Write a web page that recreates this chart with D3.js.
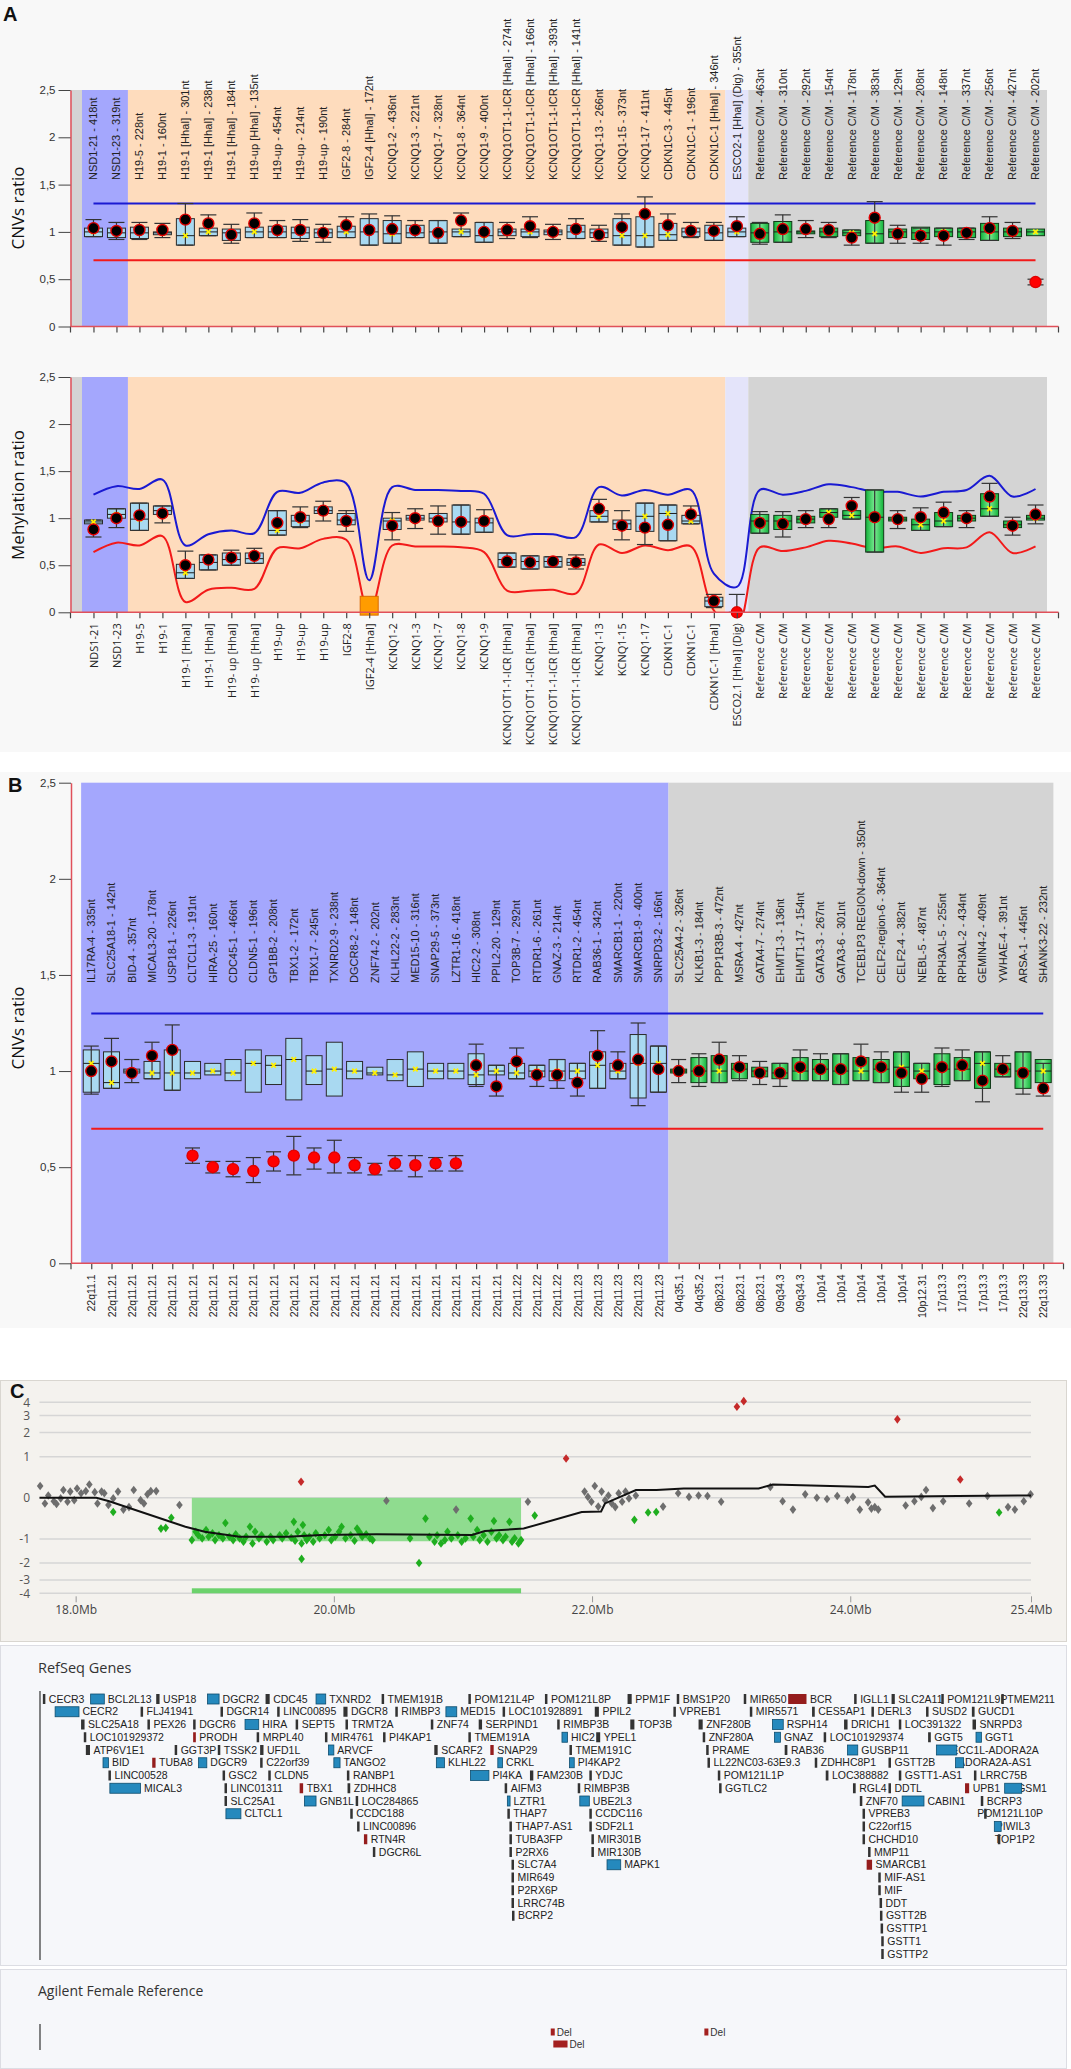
<!DOCTYPE html>
<html>
<head>
<meta charset="utf-8">
<script src="https://cdnjs.cloudflare.com/ajax/libs/d3/7.8.5/d3.min.js"></script>
<style>
  body { margin: 0; background: #fff; }
</style>
</head>
<body>
<script>
// ---------- panel A : probes ----------
const probesA = ["NSD1-21 - 418nt","NSD1-23 - 319nt","H19-5 - 228nt","H19-1 - 160nt","H19-1 [HhaI] - 301nt","H19-1 [HhaI] - 238nt","H19-1 [HhaI] - 184nt","H19-up [HhaI] - 135nt","H19-up - 454nt","H19-up - 214nt","H19-up - 190nt","IGF2-8 - 284nt","IGF2-4 [HhaI] - 172nt","KCNQ1-2 - 436nt","KCNQ1-3 - 221nt","KCNQ1-7 - 328nt","KCNQ1-8 - 364nt","KCNQ1-9 - 400nt","KCNQ1OT1-1-ICR [HhaI] - 274nt","KCNQ1OT1-1-ICR [HhaI] - 166nt","KCNQ1OT1-1-ICR [HhaI] - 393nt","KCNQ1OT1-1-ICR [HhaI] - 141nt","KCNQ1-13 - 266nt","KCNQ1-15 - 373nt","KCNQ1-17 - 411nt","CDKN1C-3 - 445nt","CDKN1C-1 - 196nt","CDKN1C-1 [HhaI] - 346nt","ESCO2-1 [HhaI] (Dig) - 355nt","Reference C/M - 463nt","Reference C/M - 310nt","Reference C/M - 292nt","Reference C/M - 154nt","Reference C/M - 178nt","Reference C/M - 383nt","Reference C/M - 129nt","Reference C/M - 208nt","Reference C/M - 148nt","Reference C/M - 337nt","Reference C/M - 256nt","Reference C/M - 427nt","Reference C/M - 202nt"];
const methLabels = ["NDS1-21","NSD1-23","H19-5","H19-1","H19-1 [HhaI]","H19-1 [HhaI]","H19- up [HhaI]","H19- up [HhaI]","H19-up","H19-up","H19-up","IGF2-8","IGF2-4 [HhaI]","KCNQ1-2","KCNQ1-3","KCNQ1-7","KCNQ1-8","KCNQ1-9","KCNQ1OT1-1-ICR [HhaI]","KCNQ1OT1-1-ICR [HhaI]","KCNQ1OT1-1-ICR [HhaI]","KCNQ1OT1-1-ICR [HhaI]","KCNQ1-13","KCNQ1-15","KCNQ1-17","CDKN1C-1","CDKN1C-1","CDKN1C-1 [HhaI]","ESCO2.1 [HhaI] (Dig)","Reference C/M","Reference C/M","Reference C/M","Reference C/M","Reference C/M","Reference C/M","Reference C/M","Reference C/M","Reference C/M","Reference C/M","Reference C/M","Reference C/M","Reference C/M"];
const groupsA = [[0, 1, "nsd"], [2, 27, "imp"], [28, 28, "esco"], [29, 41, "ref"]];

// CNV ratio (panel A, top)
const cnvMeanA = [1.04,1.01,1.02,1.02,1.13,1.09,0.97,1.09,1.02,1.02,0.99,1.07,1.02,1.03,1.02,0.99,1.12,1.00,1.02,1.06,1.00,1.03,0.97,1.05,1.19,1.07,1.01,1.01,1.06,0.98,1.03,1.03,1.02,0.94,1.15,0.98,0.96,0.96,0.99,1.04,1.01,0.47];
const cnvQ1A = [0.95,0.94,0.93,0.97,0.86,0.96,0.91,0.94,0.94,0.93,0.94,0.94,0.86,0.88,0.94,0.88,0.95,0.89,0.96,0.95,0.97,0.93,0.94,0.86,0.84,0.91,0.95,0.91,0.95,0.89,0.89,0.98,0.95,0.96,0.88,0.94,0.92,0.95,0.94,0.91,0.95,0.96];
const cnvMedA = [1.00,0.99,0.99,0.99,0.96,1.00,0.99,1.00,1.00,0.99,0.99,1.00,1.00,0.98,0.99,1.00,1.00,0.96,1.00,1.00,1.00,1.00,0.99,0.96,0.96,0.97,1.00,0.99,1.00,0.99,1.00,1.00,1.00,0.99,0.98,1.00,0.99,1.00,1.00,1.00,1.00,1.00];
const cnvQ3A = [1.04,1.04,1.05,1.00,1.14,1.04,1.03,1.05,1.06,1.05,1.03,1.06,1.14,1.12,1.07,1.12,1.03,1.10,1.03,1.03,1.02,1.07,1.03,1.14,1.16,1.09,1.04,1.07,1.04,1.09,1.11,1.01,1.04,1.02,1.12,1.03,1.05,1.04,1.04,1.09,1.04,1.03];
const cnvLoA = [0.95,0.92,0.92,0.94,0.86,0.96,0.88,0.94,0.94,0.90,0.89,0.94,0.86,0.88,0.94,0.88,0.95,0.89,0.93,0.94,0.92,0.93,0.90,0.86,0.84,0.91,0.94,0.91,0.95,0.87,0.89,0.94,0.94,0.86,0.88,0.88,0.88,0.86,0.92,0.91,0.93,0.44];
const cnvHiA = [1.13,1.10,1.10,1.09,1.30,1.18,1.08,1.20,1.12,1.13,1.08,1.16,1.19,1.17,1.12,1.12,1.20,1.10,1.10,1.16,1.08,1.14,1.07,1.19,1.37,1.19,1.10,1.10,1.16,1.10,1.18,1.12,1.10,1.02,1.32,1.07,1.04,1.04,1.04,1.16,1.10,0.50];

// methylation ratio (panel A, bottom)
const methMean = [0.88,1.00,1.03,1.05,0.50,0.56,0.58,0.60,0.95,1.01,1.08,0.97,null,0.92,1.00,0.97,0.96,0.97,0.54,0.53,0.54,0.53,1.10,0.92,0.90,0.93,1.04,0.12,0.00,0.95,0.94,0.99,0.99,1.13,1.01,0.99,1.01,1.06,1.00,1.23,0.92,1.04];
const methQ1 = [0.94,1.00,0.87,1.04,0.36,0.45,0.50,0.52,0.82,0.91,1.05,0.93,-0.03,0.88,0.98,0.96,0.83,0.85,0.48,0.46,0.48,0.50,0.96,0.88,0.86,0.76,0.94,0.06,null,0.84,0.88,0.95,1.01,0.99,0.64,0.97,0.87,0.91,0.97,1.02,0.90,0.98];
const methMed = [0.96,1.04,0.99,1.08,0.42,0.53,0.56,0.57,0.87,0.97,1.08,0.98,0.07,0.97,1.00,1.00,0.96,0.95,0.56,0.54,0.54,0.53,1.02,0.94,1.02,1.05,0.97,0.12,null,0.97,0.97,0.99,1.06,1.03,1.01,0.99,0.93,0.97,1.00,1.10,0.93,1.00];
const methQ3 = [0.98,1.10,1.16,1.13,0.51,0.61,0.63,0.63,1.08,1.03,1.12,1.05,0.17,1.00,1.03,1.05,1.14,1.00,0.63,0.60,0.59,0.57,1.08,0.98,1.16,1.14,1.03,0.16,null,1.04,1.03,1.02,1.10,1.08,1.30,1.01,0.99,1.06,1.03,1.26,0.97,1.03];
const methLo = [0.80,0.90,0.87,0.95,0.36,0.45,0.50,0.52,0.82,0.90,0.97,0.86,null,0.77,0.89,0.83,0.83,0.85,0.48,0.46,0.48,0.46,0.96,0.77,0.72,0.76,0.94,0.05,0.00,0.84,0.80,0.90,0.90,0.99,0.64,0.89,0.87,0.91,0.90,1.02,0.82,0.94];
const methHi = [0.98,1.10,1.16,1.13,0.65,0.61,0.66,0.68,1.08,1.12,1.18,1.08,null,1.06,1.10,1.13,1.14,1.09,0.63,0.60,0.59,0.61,1.20,1.08,1.16,1.14,1.13,0.19,0.19,1.07,1.07,1.08,1.10,1.22,1.30,1.08,1.11,1.17,1.08,1.37,1.01,1.14];
const methUpper = [1.25,1.34,1.31,1.41,0.71,0.83,0.87,0.84,1.28,1.27,1.38,1.37,0.34,1.33,1.30,1.30,1.29,1.26,0.82,0.83,0.83,0.80,1.33,1.24,1.30,1.25,1.30,0.41,0.27,1.30,1.25,1.29,1.36,1.33,1.28,1.28,1.23,1.28,1.30,1.45,1.23,1.31];
const methLower = [0.64,0.74,0.71,0.81,0.11,0.24,0.26,0.25,0.68,0.68,0.78,0.77,0.00,0.71,0.70,0.70,0.69,0.64,0.23,0.23,0.24,0.20,0.72,0.63,0.71,0.66,0.70,0.02,-0.15,0.69,0.65,0.69,0.76,0.73,0.68,0.70,0.63,0.68,0.69,0.85,0.63,0.70];
const methAberrant = [12];   // orange box
const methOutlier = [28];    // red point

// ---------- panel B ----------
const probesB = ["IL17RA-4 - 335nt","SLC25A18-1 - 142nt","BID-4 - 357nt","MICAL3-20 - 178nt","USP18-1 - 226nt","CLTCL1-3 - 191nt","HIRA-25 - 160nt","CDC45-1 - 466nt","CLDN5-1 - 196nt","GP1BB-2 - 208nt","TBX1-2 - 172nt","TBX1-7 - 245nt","TXNRD2-9 - 238nt","DGCR8-2 - 148nt","ZNF74-2 - 202nt","KLHL22-2 - 283nt","MED15-10 - 316nt","SNAP29-5 - 373nt","LZTR1-16 - 418nt","HIC2-2 - 308nt","PPIL2-20 - 129nt","TOP3B-7 - 292nt","RTDR1-6 - 261nt","GNAZ-3 - 214nt","RTDR1-2 - 454nt","RAB36-1 - 342nt","SMARCB1-1 - 220nt","SMARCB1-9 - 400nt","SNRPD3-2 - 166nt","SLC25A4-2 - 326nt","KLKB1-3 - 184nt","PPP1R3B-3 - 472nt","MSRA-4 - 427nt","GATA4-7 - 274nt","EHMT1-3 - 136nt","EHMT1-17 - 154nt","GATA3-3 - 267nt","GATA3-6 - 301nt","TCEB1P3 REGION-down - 350nt","CELF2-region-6 - 364nt","CELF2-4 - 382nt","NEBL-5 - 487nt","RPH3AL-5 - 255nt","RPH3AL-2 - 434nt","GEMIN4-2 - 409nt","YWHAE-4 - 391nt","ARSA-1 - 445nt","SHANK3-22 - 232nt"];
const bandsB = ["22q11.1","22q11.21","22q11.21","22q11.21","22q11.21","22q11.21","22q11.21","22q11.21","22q11.21","22q11.21","22q11.21","22q11.21","22q11.21","22q11.21","22q11.21","22q11.21","22q11.21","22q11.21","22q11.21","22q11.21","22q11.21","22q11.22","22q11.22","22q11.22","22q11.23","22q11.23","22q11.23","22q11.23","22q11.23","04q35.1","04q35.2","08p23.1","08p23.1","08p23.1","09q34.3","09q34.3","10p14","10p14","10p14","10p14","10p14","10p12.31","17p13.3","17p13.3","17p13.3","17p13.3","22q13.33","22q13.33"];
const groupsB = [[0, 28, "del"], [29, 47, "ref"]];
const cnvMeanB = [1.00,1.05,0.99,1.08,1.11,0.56,0.50,0.49,0.48,0.53,0.56,0.55,0.55,0.51,0.49,0.52,0.51,0.52,0.52,1.03,0.92,1.05,0.98,0.98,0.94,1.08,1.03,1.06,1.01,1.00,1.00,1.06,1.02,0.99,0.99,1.02,1.01,1.01,1.05,1.02,0.99,0.96,1.02,1.03,0.95,1.01,0.99,0.91];
const cnvQ1B = [0.89,0.91,0.99,0.96,0.90,0.96,0.98,0.95,0.89,0.93,0.85,0.93,0.87,0.96,0.98,0.95,0.92,0.96,0.96,0.93,0.98,0.96,0.97,0.95,0.96,0.91,0.96,0.86,0.89,0.99,0.94,0.94,0.96,0.97,0.96,0.95,0.95,0.93,0.95,0.94,0.92,0.96,0.93,0.95,0.91,0.97,0.91,0.94];
const cnvMedB = [1.04,0.94,1.00,0.99,0.99,0.99,1.00,0.99,1.04,1.03,1.06,1.00,1.01,1.00,0.99,0.98,1.01,1.00,1.00,0.98,1.00,0.99,1.00,1.00,1.00,1.03,1.00,1.04,1.04,1.00,1.00,1.00,1.01,1.00,0.99,1.00,1.01,1.00,1.00,1.01,1.02,1.00,1.01,1.01,1.04,1.01,1.00,1.00];
const cnvQ3B = [1.11,1.10,1.01,1.05,1.11,1.05,1.04,1.06,1.11,1.08,1.17,1.08,1.15,1.05,1.02,1.06,1.10,1.04,1.04,1.09,1.03,1.04,1.03,1.06,1.04,1.10,1.04,1.19,1.13,1.01,1.07,1.08,1.04,1.02,1.04,1.07,1.06,1.09,1.07,1.06,1.10,1.04,1.09,1.07,1.10,1.04,1.10,1.06];
const cnvLoB = [0.88,0.91,0.94,0.96,0.90,0.52,0.47,0.45,0.42,0.48,0.46,0.49,0.47,0.47,0.46,0.48,0.45,0.48,0.48,0.92,0.87,0.96,0.92,0.91,0.87,0.91,0.96,0.82,0.89,0.94,0.92,0.94,0.95,0.93,0.92,0.95,0.95,0.93,0.95,0.94,0.89,0.89,0.92,0.95,0.84,0.97,0.88,0.87];
const cnvHiB = [1.13,1.17,1.06,1.15,1.24,0.60,0.53,0.53,0.55,0.58,0.66,0.60,0.64,0.55,0.52,0.56,0.56,0.55,0.56,1.14,1.03,1.12,1.03,1.06,1.04,1.21,1.10,1.25,1.13,1.06,1.09,1.15,1.08,1.05,1.04,1.11,1.09,1.09,1.14,1.10,1.10,1.04,1.12,1.11,1.10,1.08,1.10,1.04];
const cnvUpper = 1.3, cnvLower = 0.7;
const ratioTicks = [0, 0.5, 1, 1.5, 2, 2.5];

// ---------- panel C : array CGH (Mb, log ratio) ----------
const cGray = [[17.725,0.22],[17.762,-0.10],[17.788,0.04],[17.831,-0.06],[17.852,-0.11],[17.884,-0.01],[17.905,0.14],[17.937,-0.07],[17.958,0.11],[17.989,-0.04],[18.011,0.17],[18.042,0.08],[18.079,0.12],[18.106,0.25],[18.148,0.10],[18.169,-0.10],[18.201,0.11],[18.222,0.08],[18.254,-0.13],[18.291,-0.01],[18.328,0.11],[18.370,-0.22],[18.413,-0.17],[18.450,0.14],[18.503,-0.04],[18.529,-0.10],[18.556,0.06],[18.582,0.12],[18.624,0.12],[18.804,-0.13],[20.407,-0.05],[20.947,-0.22],[21.503,-0.07],[21.942,0.11],[21.968,0.015],[21.995,-0.07],[22.021,0.22],[22.048,-0.16],[22.074,0.11],[22.101,-0.04],[22.127,0.04],[22.153,-0.10],[22.180,-0.17],[22.206,0.08],[22.233,-0.07],[22.259,0.11],[22.286,-0.01],[22.339,0.04],[22.550,-0.16],[22.667,0.08],[22.751,0.015],[22.825,0.04],[22.894,0.03],[23.000,-0.07],[23.381,0.20],[23.476,-0.06],[23.556,-0.22],[23.651,0.06],[23.741,0.0],[23.820,-0.02],[23.899,0.03],[23.979,-0.04],[24.021,0.015],[24.074,-0.22],[24.138,-0.08],[24.164,-0.20],[24.190,-0.17],[24.217,-0.22],[24.429,-0.14],[24.497,-0.06],[24.550,0.015],[24.587,0.14],[24.640,-0.19],[24.720,-0.06],[24.921,-0.10],[25.063,0.03],[25.222,-0.17],[25.275,-0.22],[25.344,-0.06],[25.397,0.06]];
const cGreen = [[18.291,-0.27],[18.661,-0.68],[18.698,-0.66],[18.741,-0.40],[18.90,-1.04],[18.93,-0.77],[18.95,-0.88],[18.98,-0.98],[19.01,-0.72],[19.03,-0.93],[19.06,-0.82],[19.08,-1.04],[19.11,-0.88],[19.14,-0.98],[19.16,-0.53],[19.19,-0.93],[19.22,-1.04],[19.24,-0.85],[19.27,-0.98],[19.30,-1.10],[19.32,-0.93],[19.35,-0.63],[19.37,-1.16],[19.39,-0.77],[19.42,-0.98],[19.44,-0.88],[19.48,-1.10],[19.51,-0.93],[19.53,-1.04],[19.58,-0.88],[19.60,-0.98],[19.63,-0.82],[19.67,-0.96],[19.69,-0.50],[19.70,-1.06],[19.72,-0.77],[19.75,-1.16],[19.75,-1.80],[19.76,-0.58],[19.77,-0.88],[19.79,-1.04],[19.81,-0.93],[19.84,-1.10],[19.86,-0.82],[19.89,-0.98],[19.93,-0.88],[19.96,-0.72],[19.98,-1.04],[20.01,-0.93],[20.04,-0.77],[20.06,-0.63],[20.09,-0.98],[20.13,-0.88],[20.16,-1.06],[20.18,-0.68],[20.20,-0.79],[20.22,-0.93],[20.25,-0.85],[20.28,-0.98],[20.30,-1.04],[20.59,-0.98],[20.66,-2.00],[20.71,-0.42],[20.74,-0.93],[20.78,-1.10],[20.80,-0.88],[20.83,-1.16],[20.86,-1.04],[20.88,-0.77],[20.91,-0.98],[20.96,-0.88],[20.99,-1.10],[21.02,-0.98],[21.06,-0.42],[21.08,-0.93],[21.11,-0.72],[21.13,-1.04],[21.16,-0.88],[21.19,-1.10],[21.22,-0.77],[21.24,-0.48],[21.26,-0.98],[21.28,-0.88],[21.31,-1.04],[21.33,-0.93],[21.36,-0.50],[21.38,-1.10],[21.40,-0.98],[21.43,-1.16],[21.45,-1.04],[21.556,-0.35],[22.328,-0.45],[22.434,-0.28],[22.497,-0.27],[25.153,-0.28]];
const cRed = [[19.746,0.31],[21.799,0.94],[23.122,3.64],[23.175,4.10],[24.365,2.75],[24.852,0.36]];
const cTrend = [[17.72,0.0],[18.16,0.0],[18.26,-0.06],[18.85,-0.63],[19.0,-0.77],[19.27,-0.93],[19.64,-0.93],[19.9,-0.87],[20.33,-0.85],[21.07,-0.87],[21.17,-0.75],[21.47,-0.68],[21.92,-0.27],[22.07,-0.26],[22.1,-0.10],[22.2,0.0],[22.34,0.14],[22.5,0.14],[22.71,0.17],[23.29,0.17],[23.4,0.25],[24.14,0.20],[24.19,0.23],[24.27,0.02],[24.83,0.03],[25.4,0.04]];
const cCall = [18.90, 21.45, -1.08];
const cYTicks = [4, 3, 2, 1, 0, -1, -2, -3, -4];
const cXTicks = [18, 20, 22, 24, 25.4];

// RefSeq genes: name, start Mb, end Mb, row, glyph (t thin, b blue, r red)
const refGenes = [
 ["CECR3",17.746,17.746,0,"t"],["BCL2L13",18.116,18.222,0,"b"],["USP18",18.624,18.650,0,"t"],["DGCR2",19.021,19.111,0,"b"],["CDC45",19.471,19.503,0,"t"],["TXNRD2",19.862,19.937,0,"b"],["TMEM191B",20.370,20.370,0,"t"],["POM121L4P",21.042,21.042,0,"t"],["POM121L8P",21.635,21.650,0,"t"],["PPM1F",22.275,22.307,0,"t"],["BMS1P20",22.656,22.672,0,"t"],["MIR650",23.175,23.175,0,"t"],["BCR",23.519,23.661,0,"r"],["IGLL1",24.030,24.046,0,"t"],["SLC2A11",24.320,24.345,0,"t"],["POM121L9P",24.705,24.721,0,"t"],["TMEM211",25.170,25.170,0,"t"],
 ["CECR2",17.841,18.026,1,"b"],["FLJ41941",18.503,18.503,1,"t"],["DGCR14",19.122,19.122,1,"t"],["LINC00895",19.561,19.561,1,"t"],["DGCR8",20.074,20.106,1,"t"],["RIMBP3",20.476,20.476,1,"t"],["MED15",20.868,20.952,1,"b"],["LOC101928891",21.307,21.307,1,"t"],["PPIL2",22.021,22.053,1,"t"],["VPREB1",22.630,22.630,1,"t"],["MIR5571",23.222,23.222,1,"t"],["CES5AP1",23.704,23.725,1,"t"],["DERL3",24.164,24.164,1,"t"],["SUSD2",24.587,24.587,1,"t"],["GUCD1",24.942,24.963,1,"t"],
 ["SLC25A18",18.042,18.069,2,"t"],["PEX26",18.556,18.556,2,"t"],["DGCR6",18.910,18.910,2,"t"],["HIRA",19.312,19.418,2,"b"],["SEPT5",19.704,19.720,2,"t"],["TRMT2A",20.090,20.090,2,"t"],["ZNF74",20.751,20.751,2,"t"],["SERPIND1",21.122,21.148,2,"t"],["RIMBP3B",21.730,21.730,2,"t"],["TOP3B",22.296,22.328,2,"t"],["ZNF280B",22.825,22.857,2,"t"],["RSPH14",23.397,23.481,2,"b"],["DRICH1",23.952,23.979,2,"t"],["LOC391322",24.376,24.376,2,"t"],["SNRPD3",24.947,24.974,2,"t"],
 ["LOC101929372",18.063,18.063,3,"t"],["PRODH",18.910,18.931,3,"r"],["MRPL40",19.402,19.402,3,"t"],["MIR4761",19.931,19.931,3,"t"],["PI4KAP1",20.381,20.381,3,"t"],["TMEM191A",21.042,21.042,3,"t"],["HIC2",21.767,21.810,3,"b"],["YPEL1",22.032,22.063,3,"t"],["ZNF280A",22.857,22.857,3,"t"],["GNAZ",23.413,23.460,3,"b"],["LOC101929374",23.794,23.794,3,"t"],["GGT5",24.603,24.624,3,"t"],["GGT1",24.974,25.016,3,"b"],
 ["ATP6V1E1",18.079,18.111,4,"t"],["GGT3P",18.767,18.767,4,"t"],["TSSK2",19.101,19.101,4,"t"],["UFD1L",19.429,19.455,4,"t"],["ARVCF",19.958,20.000,4,"b"],["SCARF2",20.778,20.804,4,"t"],["SNAP29",21.212,21.238,4,"r"],["TMEM191C",21.825,21.825,4,"t"],["PRAME",22.884,22.884,4,"t"],["RAB36",23.492,23.513,4,"t"],["GUSBP11",23.979,24.058,4,"b"],["SPECC1L-ADORA2A",24.667,24.825,4,"b"],
 ["BID",18.212,18.254,5,"b"],["TUBA8",18.593,18.619,5,"r"],["DGCR9",18.952,19.016,5,"b"],["C22orf39",19.429,19.429,5,"t"],["TANGO2",20.000,20.048,5,"b"],["KLHL22",20.794,20.857,5,"b"],["CRKL",21.270,21.307,5,"b"],["PI4KAP2",21.825,21.862,5,"b"],["LL22NC03-63E9.3",22.894,22.894,5,"t"],["ZDHHC8P1",23.725,23.725,5,"t"],["GSTT2B",24.296,24.296,5,"t"],["ADORA2A-AS1",24.815,24.878,5,"b"],
 ["LINC00528",18.254,18.254,6,"t"],["GSC2",19.138,19.138,6,"t"],["CLDN5",19.492,19.492,6,"t"],["RANBP1",20.101,20.101,6,"t"],["PI4KA",21.058,21.201,6,"b"],["FAM230B",21.519,21.545,6,"t"],["YDJC",21.979,21.979,6,"t"],["POM121L1P",22.974,22.974,6,"t"],["LOC388882",23.810,23.831,6,"t"],["GSTT1-AS1",24.376,24.376,6,"t"],["LRRC75B",24.958,24.958,6,"t"],
 ["MICAL3",18.265,18.503,7,"b"],["LINC01311",19.153,19.153,7,"t"],["TBX1",19.735,19.762,7,"r"],["ZDHHC8",20.106,20.127,7,"t"],["AIFM3",21.323,21.323,7,"t"],["RIMBP3B",21.889,21.889,7,"t"],["GGTLC2",22.984,22.984,7,"t"],["RGL4",24.021,24.042,7,"t"],["DDTL",24.296,24.296,7,"t"],["UPB1",24.889,24.921,7,"r"],["SGSM1",25.196,25.328,7,"b"],
 ["SLC25A1",19.153,19.153,8,"t"],["GNB1L",19.772,19.862,8,"b"],["LOC284865",20.169,20.169,8,"t"],["LZTR1",21.344,21.365,8,"b"],["UBE2L3",21.905,21.979,8,"b"],["ZNF70",24.074,24.074,8,"t"],["CABIN1",24.402,24.571,8,"b"],["BCRP3",25.011,25.011,8,"t"],
 ["CLTCL1",19.164,19.280,9,"b"],["CCDC188",20.127,20.127,9,"t"],["THAP7",21.344,21.344,9,"t"],["CCDC116",21.979,21.979,9,"t"],["VPREB3",24.095,24.095,9,"t"],["POM121L10P",25.037,25.037,9,"t"],
 ["LINC00896",20.180,20.180,10,"t"],["THAP7-AS1",21.360,21.360,10,"t"],["SDF2L1",21.979,21.979,10,"t"],["C22orf15",24.095,24.095,10,"t"],["PIWIL3",25.116,25.169,10,"b"],
 ["RTN4R",20.233,20.259,11,"r"],["TUBA3FP",21.360,21.360,11,"t"],["MIR301B",21.995,21.995,11,"t"],["CHCHD10",24.095,24.095,11,"t"],["TOP1P2",25.143,25.143,11,"t"],
 ["DGCR6L",20.302,20.302,12,"t"],["P2RX6",21.360,21.360,12,"t"],["MIR130B",21.995,21.995,12,"t"],["MMP11",24.138,24.138,12,"t"],
 ["SLC7A4",21.376,21.376,13,"t"],["MAPK1",22.116,22.222,13,"b"],["SMARCB1",24.127,24.169,13,"r"],
 ["MIR649",21.376,21.376,14,"t"],["MIF-AS1",24.217,24.217,14,"t"],
 ["P2RX6P",21.376,21.376,15,"t"],["MIF",24.217,24.217,15,"t"],
 ["LRRC74B",21.376,21.376,16,"t"],["DDT",24.227,24.227,16,"t"],
 ["BCRP2",21.380,21.380,17,"t"],["GSTT2B",24.230,24.230,17,"t"],
 ["GSTTP1",24.235,24.235,18,"t"],["GSTT1",24.240,24.240,19,"t"],["GSTTP2",24.240,24.240,20,"t"]
];
const agilentDel = [[21.68, 21.70, 0], [21.70, 21.81, 1], [22.87, 22.89, 0]];

// ---------- drawing ----------
const SANS = '"Liberation Sans", Arial, sans-serif';
const OPEN = '"Open Sans", "Liberation Sans", sans-serif';
const FILL = {nsd: "#a4a7fd", imp: "#fedcbd", esco: "#e4e4fa", ref: "#d4d4d4", del: "#a4a7fd"};
const AXIS_RED = "#e0505a";

const svg = d3.select("body").append("svg")
    .attr("width", 1071).attr("height", 2069)
    .attr("font-family", SANS);

const defs = svg.append("defs");
const grad = defs.append("linearGradient").attr("id", "refGreen")
    .attr("x1", 0).attr("x2", 1).attr("y1", 0).attr("y2", 0);
[[0, "#12b33a"], [0.5, "#7aea92"], [1, "#12b33a"]].forEach(s =>
    grad.append("stop").attr("offset", s[0]).attr("stop-color", s[1]));

// panel backgrounds
svg.append("rect").attr("x", 0).attr("y", 0).attr("width", 1071).attr("height", 752).attr("fill", "#f8f8f8");
svg.append("rect").attr("x", 0).attr("y", 772).attr("width", 1071).attr("height", 556).attr("fill", "#f8f8f8");
svg.append("rect").attr("x", 0.5).attr("y", 1380.5).attr("width", 1066).attr("height", 261)
    .attr("fill", "#f4f2ee").attr("stroke", "#d9d6d0");
svg.append("rect").attr("x", 0.5).attr("y", 1645.5).attr("width", 1066).attr("height", 320)
    .attr("fill", "#f6f7fa").attr("stroke", "#dcdde3");
svg.append("rect").attr("x", 0.5).attr("y", 1969.5).attr("width", 1066).attr("height", 99)
    .attr("fill", "#f6f7fa").attr("stroke", "#dcdde3");

const panelLetter = (t, x, y) => svg.append("text").attr("x", x).attr("y", y)
    .attr("font-size", 20).attr("font-weight", "bold").attr("fill", "#111").text(t);
panelLetter("A", 3, 21);
panelLetter("B", 8, 792);
panelLetter("C", 10, 1398);

const yTitle = (t, x, y) => svg.append("text")
    .attr("transform", `translate(${x},${y}) rotate(-90)`)
    .attr("text-anchor", "middle").attr("font-family", OPEN).attr("font-size", 17)
    .attr("fill", "#111").text(t);

let clipCount = 0;
function probeChart(o) {
  const n = o.labels.length;
  const x = d3.scalePoint().domain(d3.range(n)).range([o.axisX, o.axisEnd]).padding(1);
  const step = x.step();
  const y = d3.scaleLinear().domain([0, 2.5]).range([o.y0, o.y1]);
  const g = svg.append("g");
  const groupOf = i => o.groups.find(gp => i >= gp[0] && i <= gp[1])[2];
  const bandRight = x(n - 1) + step / 2;

  if (o.strip) g.append("rect").attr("x", o.axisX).attr("y", o.y1)
      .attr("width", x(0) - step / 2 - o.axisX).attr("height", o.y0 - o.y1).attr("fill", FILL.ref);
  g.selectAll("rect.band").data(o.groups).join("rect").attr("class", "band")
      .attr("x", d => x(d[0]) - step / 2).attr("y", o.y1)
      .attr("width", d => (d[1] - d[0] + 1) * step).attr("height", o.y0 - o.y1)
      .attr("fill", d => FILL[d[2]]);

  // thresholds
  const cid = "clip" + (clipCount++);
  g.append("clipPath").attr("id", cid).append("rect")
      .attr("x", o.axisX).attr("y", o.y1).attr("width", bandRight - o.axisX).attr("height", o.y0 - o.y1);
  const curve = d3.line().x((d, i) => x(i)).y(d => y(d)).curve(d3.curveCatmullRom.alpha(0.5));
  [[o.upper, "#1a1ad2"], [o.lower, "#f21a1a"]].forEach(([v, col]) => {
    if (Array.isArray(v)) {
      g.append("path").datum(v).attr("d", curve).attr("fill", "none")
          .attr("stroke", col).attr("stroke-width", 2).attr("clip-path", `url(#${cid})`);
    } else {
      g.append("line").attr("x1", x(0)).attr("x2", x(n - 1)).attr("y1", y(v)).attr("y2", y(v))
          .attr("stroke", col).attr("stroke-width", 2);
    }
  });

  // boxes
  const idx = d3.range(n);
  const aberrant = o.aberrant || [];
  const withBox = idx.filter(i => o.q1[i] != null);
  const normalBox = withBox.filter(i => !aberrant.includes(i));
  const boxFill = i => aberrant.includes(i) ? "#ff9c00"
      : groupOf(i) === "ref" ? "url(#refGreen)" : "#a9d9f1";
  const boxStroke = i => aberrant.includes(i) ? "#d96a00"
      : groupOf(i) === "ref" ? "#123a18" : "#2b2b2b";
  g.selectAll("rect.box").data(withBox).join("rect").attr("class", "box")
      .attr("x", i => x(i) - o.bw / 2).attr("width", o.bw)
      .attr("y", i => y(o.q3[i])).attr("height", i => y(o.q1[i]) - y(o.q3[i]))
      .attr("fill", boxFill).attr("stroke", boxStroke).attr("stroke-width", 1);
  g.selectAll("line.med").data(normalBox).join("line").attr("class", "med")
      .attr("x1", i => x(i) - o.bw / 2).attr("x2", i => x(i) + o.bw / 2)
      .attr("y1", i => y(o.med[i])).attr("y2", i => y(o.med[i]))
      .attr("stroke", "#1d1d1d").attr("stroke-width", 1);

  // whiskers
  const withW = idx.filter(i => o.lo[i] != null);
  const wg = g.selectAll("g.wh").data(withW).join("g").attr("class", "wh")
      .attr("stroke", "#333").attr("stroke-width", 1.2);
  wg.append("line").attr("x1", i => x(i)).attr("x2", i => x(i))
      .attr("y1", i => y(o.lo[i])).attr("y2", i => y(o.hi[i]));
  ["lo", "hi"].forEach(k => wg.append("line")
      .attr("x1", i => x(i) - o.cap / 2).attr("x2", i => x(i) + o.cap / 2)
      .attr("y1", i => y(o[k][i])).attr("y2", i => y(o[k][i])));

  // yellow median markers
  g.selectAll("path.ym").data(normalBox).join("path").attr("class", "ym")
      .attr("d", "M-2.3,-2.3L2.3,2.3M-2.3,2.3L2.3,-2.3")
      .attr("transform", i => `translate(${x(i)},${y(o.med[i])})`)
      .attr("stroke", "#fff000").attr("stroke-width", 1.8);

  // sample points
  g.selectAll("circle.pt").data(idx.filter(i => o.mean[i] != null)).join("circle").attr("class", "pt")
      .attr("cx", i => x(i)).attr("cy", i => y(o.mean[i])).attr("r", 5.5)
      .attr("fill", i => o.isRed(i) ? "#ff0000" : "#000")
      .attr("stroke", "#e00000").attr("stroke-width", 1.4);

  // y axis
  g.append("g").attr("transform", `translate(${o.axisX},0)`)
      .call(d3.axisLeft(y).tickValues(ratioTicks).tickSize(12).tickSizeOuter(0)
          .tickFormat(d => String(d).replace(".", ",")))
      .call(a => {
        a.attr("font-family", SANS).attr("font-size", 11.5);
        a.select(".domain").attr("stroke", AXIS_RED).attr("stroke-width", 1.5);
        a.selectAll(".tick line").attr("stroke", "#444");
        a.selectAll(".tick text").attr("fill", "#333");
      });

  // x axis
  const xa = g.append("g").attr("transform", `translate(0,${o.y0})`)
      .call(d3.axisBottom(x).tickSize(6).tickFormat(i => o.bottomLabels ? o.bottomLabels[i] : ""));
  xa.select(".domain").remove();
  xa.selectAll(".tick line").attr("stroke", "#444").attr("stroke-width", 1.2);
  if (o.bottomLabels) {
    xa.attr("font-family", o.bottomFont).attr("font-size", o.bottomSize);
    xa.selectAll(".tick text").attr("transform", "rotate(-90)").attr("x", -11).attr("y", 0)
        .attr("dy", "0.35em").attr("text-anchor", "end").attr("fill", "#222");
  }
  g.selectAll("line.endtick").data([o.axisX, o.axisEnd]).join("line").attr("class", "endtick")
      .attr("x1", d => d).attr("x2", d => d).attr("y1", o.y0).attr("y2", o.y0 + 6)
      .attr("stroke", "#444").attr("stroke-width", 1.2);
  g.append("line").attr("x1", o.axisX).attr("x2", o.axisEnd).attr("y1", o.y0).attr("y2", o.y0)
      .attr("stroke", AXIS_RED).attr("stroke-width", 1.5);

  // probe labels above the plot
  if (o.topLabels) {
    g.selectAll("text.top").data(o.topLabels).join("text").attr("class", "top")
        .attr("transform", (d, i) => `translate(${x(i)},${o.topLabelY}) rotate(-90)`)
        .attr("dy", "0.35em").attr("font-size", 11).attr("fill", "#222").text(d => d);
  }
}

probeChart({
  labels: probesA, topLabels: probesA, topLabelY: 180,
  axisX: 70.5, axisEnd: 1058.5, y0: 326.5, y1: 90,
  groups: groupsA, strip: true, bw: 18, cap: 16,
  mean: cnvMeanA, q1: cnvQ1A, med: cnvMedA, q3: cnvQ3A, lo: cnvLoA, hi: cnvHiA,
  upper: cnvUpper, lower: cnvLower,
  isRed: i => cnvMeanA[i] < cnvLower || cnvMeanA[i] > cnvUpper
});
probeChart({
  labels: methLabels, bottomLabels: methLabels, bottomFont: OPEN, bottomSize: 11,
  axisX: 70.5, axisEnd: 1058.5, y0: 612.3, y1: 377,
  groups: groupsA, strip: true, bw: 18, cap: 16, aberrant: methAberrant,
  mean: methMean, q1: methQ1, med: methMed, q3: methQ3, lo: methLo, hi: methHi,
  upper: methUpper, lower: methLower,
  isRed: i => methOutlier.includes(i)
});
probeChart({
  labels: probesB, topLabels: probesB, topLabelY: 983, bottomLabels: bandsB, bottomFont: SANS, bottomSize: 10.5,
  axisX: 71, axisEnd: 1063.5, y0: 1263.3, y1: 782.7,
  groups: groupsB, strip: false, bw: 16, cap: 15,
  mean: cnvMeanB, q1: cnvQ1B, med: cnvMedB, q3: cnvQ3B, lo: cnvLoB, hi: cnvHiB,
  upper: cnvUpper, lower: cnvLower,
  isRed: i => cnvMeanB[i] < cnvLower || cnvMeanB[i] > cnvUpper
});
yTitle("CNVs ratio", 24, 208);
yTitle("Mehylation ratio", 24, 495);
yTitle("CNVs ratio", 24, 1028);

// ---------- panel C ----------
const xC = d3.scaleLinear().domain([17.72, 25.4]).range([39.5, 1031]);
const yC = d3.scaleSymlog().constant(1).domain([-4, 4]).range([1593.3, 1402.3]);
const gc = svg.append("g");

gc.selectAll("line.grid").data(cYTicks).join("line").attr("class", "grid")
    .attr("x1", xC(17.72)).attr("x2", xC(25.4)).attr("y1", d => yC(d)).attr("y2", d => yC(d))
    .attr("stroke", "#d6d6d6").attr("stroke-width", 1.5);
gc.selectAll("text.yl").data(cYTicks).join("text").attr("class", "yl")
    .attr("x", 30).attr("y", d => yC(d)).attr("dy", "0.35em").attr("text-anchor", "end")
    .attr("font-family", OPEN).attr("font-size", 12).attr("fill", "#555").text(d => d);

gc.append("rect").attr("x", xC(cCall[0])).attr("width", xC(cCall[1]) - xC(cCall[0]))
    .attr("y", yC(0)).attr("height", yC(cCall[2]) - yC(0)).attr("fill", "#8fdc8f");
gc.append("rect").attr("x", xC(cCall[0])).attr("width", xC(cCall[1]) - xC(cCall[0]))
    .attr("y", yC(-4) - 5).attr("height", 5).attr("fill", "#6cd26c");

const xAxC = gc.append("g").attr("transform", `translate(0,${yC(-4) + 3})`)
    .call(d3.axisBottom(xC).tickValues(cXTicks).tickSize(6).tickFormat(d => d3.format(".1f")(d) + "Mb"));
xAxC.select(".domain").remove();
xAxC.attr("font-family", OPEN).attr("font-size", 12);
xAxC.selectAll(".tick line").attr("stroke", "#999");
xAxC.selectAll(".tick text").attr("fill", "#444");

const diamond = "M0,-4.3L3.3,0L0,4.3L-3.3,0Z";
[[cGray, "#6e6e6e"], [cGreen, "#1fae1f"], [cRed, "#c52a2a"]].forEach(([pts, col]) => {
  gc.append("g").selectAll("path").data(pts).join("path")
      .attr("d", diamond).attr("transform", d => `translate(${xC(d[0])},${yC(d[1])})`)
      .attr("fill", col);
});
gc.append("path").datum(cTrend)
    .attr("d", d3.line().x(d => xC(d[0])).y(d => yC(d[1])))
    .attr("fill", "none").attr("stroke", "#111").attr("stroke-width", 2);

// RefSeq gene track
svg.append("text").attr("x", 38).attr("y", 1673).attr("font-family", OPEN)
    .attr("font-size", 14.5).attr("fill", "#333").text("RefSeq Genes");
svg.append("line").attr("x1", 40).attr("x2", 40).attr("y1", 1691).attr("y2", 1960)
    .attr("stroke", "#333").attr("stroke-width", 1.2);
const rowY = d3.scaleLinear().domain([0, 1]).range([1699, 1711.75]);
const labelShift = {"SPECC1L-ADORA2A": -23, "ADORA2A-AS1": -9, "SGSM1": -15, "POM121L10P": -13, "PIWIL3": -9, "TOP1P2": -9};
const glyphFill = {t: "#333", b: "#2589bd", r: "#951d1d"};
const glyphW = d => Math.max(2.5, xC(d[2]) - xC(d[1]));
const gg = svg.append("g").selectAll("g").data(refGenes).join("g");
gg.append("text")
    .attr("x", d => xC(d[1]) + glyphW(d) + 3.5 + (labelShift[d[0]] || 0))
    .attr("y", d => rowY(d[3])).attr("dy", "0.35em")
    .attr("font-size", 10.5).attr("fill", "#222").text(d => d[0]);
gg.append("rect")
    .attr("x", d => xC(d[1])).attr("y", d => rowY(d[3]) - 5)
    .attr("width", glyphW).attr("height", 10)
    .attr("fill", d => glyphFill[d[4]])
    .attr("stroke", d => d[4] === "b" ? "#0e4d6e" : "none").attr("stroke-width", 0.8);

// Agilent reference track
svg.append("text").attr("x", 38).attr("y", 1996).attr("font-family", OPEN)
    .attr("font-size", 14).attr("fill", "#333").text("Agilent Female Reference");
svg.append("line").attr("x1", 40).attr("x2", 40).attr("y1", 2024).attr("y2", 2050)
    .attr("stroke", "#333").attr("stroke-width", 1.2);
const delY = d3.scaleLinear().domain([0, 1]).range([2032, 2044]);
const ag = svg.append("g").selectAll("g").data(agilentDel).join("g");
ag.append("rect").attr("x", d => xC(d[0])).attr("y", d => delY(d[2]) - 3.5)
    .attr("width", d => Math.max(4, xC(d[1]) - xC(d[0]))).attr("height", 7).attr("fill", "#a3201f");
ag.append("text").attr("x", d => xC(d[0]) + Math.max(4, xC(d[1]) - xC(d[0])) + 2)
    .attr("y", d => delY(d[2])).attr("dy", "0.35em").attr("font-size", 10).attr("fill", "#333").text("Del");
</script>
</body>
</html>
